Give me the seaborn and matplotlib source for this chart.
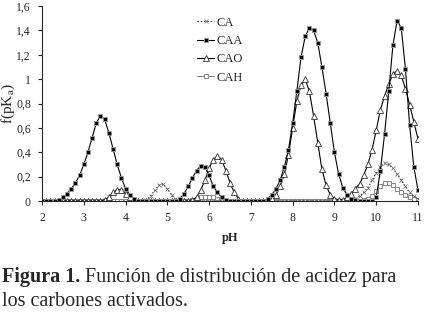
import numpy as np
import pandas as pd
import matplotlib
matplotlib.use("Agg")
import matplotlib.pyplot as plt
import seaborn as sns

# pH grid, 0.1 steps from 2 to 11
ph = np.round(np.arange(2.0, 11.01, 0.1), 1)

ca = [0, 0, 0, 0, 0, 0, 0, 0, 0, 0,
      0, 0, 0, 0, 0, 0.01, 0.03, 0.06, 0.08, 0.08,
      0.06, 0.03, 0.01, 0, 0, 0.01, 0.04, 0.09, 0.13, 0.14,
      0.10, 0.05, 0.01, 0, 0, 0, 0, 0, 0, 0,
      0, 0, 0, 0, 0, 0, 0, 0, 0, 0,
      0, 0, 0, 0, 0, 0, 0, 0, 0, 0,
      0, 0, 0, 0, 0, 0, 0, 0, 0, 0,
      0, 0, 0, 0, 0.01, 0.02, 0.04, 0.07, 0.11, 0.17,
      0.23, 0.28, 0.31, 0.30, 0.27, 0.22, 0.17, 0.12, 0.07, 0.04,
      0.02]

caa = [0, 0, 0, 0, 0.01, 0.03, 0.06, 0.10, 0.15, 0.21,
       0.30, 0.40, 0.52, 0.64, 0.70, 0.67, 0.56, 0.43, 0.30, 0.19,
       0.10, 0.05, 0.02, 0, 0, 0, 0, 0, 0, 0,
       0, 0, 0, 0.02, 0.06, 0.12, 0.19, 0.25, 0.29, 0.28,
       0.21, 0.12, 0.07, 0.03, 0.01, 0, 0, 0, 0, 0,
       0, 0, 0, 0, 0.02, 0.05, 0.10, 0.17, 0.28, 0.42,
       0.64, 0.90, 1.18, 1.35, 1.42, 1.40, 1.30, 1.10, 0.88, 0.64,
       0.40, 0.22, 0.11, 0.05, 0.02, 0.01, 0, 0, 0, 0,
       0.03, 0.25, 0.55, 0.90, 1.28, 1.48, 1.42, 1.08, 0.62, 0.28,
       0.09]

cao = [0, 0, 0, 0, 0, 0, 0, 0, 0, 0,
       0, 0, 0, 0, 0, 0.01, 0.03, 0.07, 0.09, 0.09,
       0.06, 0.03, 0.01, 0, 0, 0, 0, 0, 0, 0,
       0, 0, 0, 0, 0, 0, 0.01, 0.03, 0.09, 0.17,
       0.27, 0.34, 0.37, 0.34, 0.25, 0.15, 0.07, 0.02, 0, 0,
       0, 0, 0, 0, 0, 0.02, 0.05, 0.12, 0.22, 0.38,
       0.60, 0.82, 0.95, 1.00, 0.90, 0.70, 0.48, 0.26, 0.13, 0.05,
       0.02, 0.01, 0.01, 0.03, 0.06, 0.10, 0.14, 0.21, 0.30, 0.42,
       0.58, 0.75, 0.86, 0.96, 1.04, 1.07, 1.03, 0.92, 0.79, 0.65,
       0.51]

cah = [0, 0, 0, 0, 0, 0, 0, 0, 0, 0,
       0, 0, 0, 0, 0, 0, 0, 0, 0, 0,
       0, 0, 0, 0, 0, 0, 0, 0, 0, 0,
       0, 0, 0, 0, 0, 0, 0.01, 0.02, 0.03, 0.03,
       0.03, 0.03, 0.02, 0.01, 0, 0, 0, 0, 0, 0,
       0, 0, 0, 0, 0, 0, 0, 0, 0, 0,
       0, 0, 0, 0, 0, 0, 0, 0, 0, 0,
       0, 0, 0, 0, 0, 0, 0, 0.01, 0.02, 0.04,
       0.08, 0.12, 0.15, 0.15, 0.13, 0.10, 0.07, 0.05, 0.03, 0.02,
       0.01]

yticks = [0, 0.2, 0.4, 0.6, 0.8, 1.0, 1.2, 1.4, 1.6]
ytick_labels = ["0", "0,2", "0,4", "0,6", "0,8", "1", "1,2", "1,4", "1,6"]
xticks = list(range(2, 12))

sns.set_style("ticks")
plt.rcParams["font.family"] = ["Liberation Serif", "DejaVu Serif"]
plt.rcParams["mathtext.fontset"] = "stix"

fig = plt.figure(figsize=(4.24, 3.17), dpi=100)
ax = fig.add_axes([42 / 424, 116 / 317, 376 / 424, 195 / 317])

sns.lineplot(x=ph, y=cah, ax=ax, color="#888888", linewidth=0.8,
             marker="s", markersize=3.4, markerfacecolor="white",
             markeredgecolor="#888888", markeredgewidth=0.7, label="CAH")
sns.lineplot(x=ph, y=ca, ax=ax, color="#333333", linewidth=0.9, linestyle=":",
             marker="x", markersize=2.2, markeredgewidth=0.5,
             markeredgecolor="#666666", label="CA")
sns.lineplot(x=ph, y=cao, ax=ax, color="black", linewidth=0.8,
             marker="^", markersize=3.8, markerfacecolor="white",
             markeredgecolor="#333333", markeredgewidth=0.6, label="CAO")
sns.lineplot(x=ph, y=caa, ax=ax, color="black", linewidth=0.8,
             marker="s", markersize=3.2, markerfacecolor="black",
             markeredgecolor="#999999", markeredgewidth=0.6, label="CAA")

handles, labels = ax.get_legend_handles_labels()
order = [labels.index(k) for k in ["CA", "CAA", "CAO", "CAH"]]
ax.legend([handles[i] for i in order], [labels[i] for i in order],
          loc="upper left", bbox_to_anchor=(0.40, 0.97), frameon=False,
          fontsize=9, handlelength=1.3, handletextpad=0.2,
          labelspacing=0.5, borderaxespad=0)

ax.set_xlim(2, 11)
ax.set_ylim(0, 1.6)
ax.set_xticks(xticks)
ax.set_yticks(yticks)
ax.set_yticklabels(ytick_labels)
ax.tick_params(labelsize=8.5, length=3, width=0.8, pad=5)
ax.set_xlabel("pH", fontsize=9, fontweight="bold", labelpad=6)
ax.set_ylabel("f(pK$_\\mathrm{a}$)", fontsize=11)
ax.yaxis.set_label_coords(-0.066, 0.5)
sns.despine(ax=ax)
for sp in ["left", "bottom"]:
    ax.spines[sp].set_linewidth(0.8)

# caption below the chart
cap1 = fig.text(2 / 424, 35 / 317, "Figura 1.", fontsize=14.5,
                fontweight="bold", va="baseline")
ax.annotate(" Función de distribución de acidez para", xy=(1, 0),
            xycoords=cap1, va="bottom", fontsize=14.5, annotation_clip=False)
fig.text(2 / 424, 11 / 317, "los carbones activados.", fontsize=14.5,
         va="baseline")

fig.savefig("out.png", dpi=100)
